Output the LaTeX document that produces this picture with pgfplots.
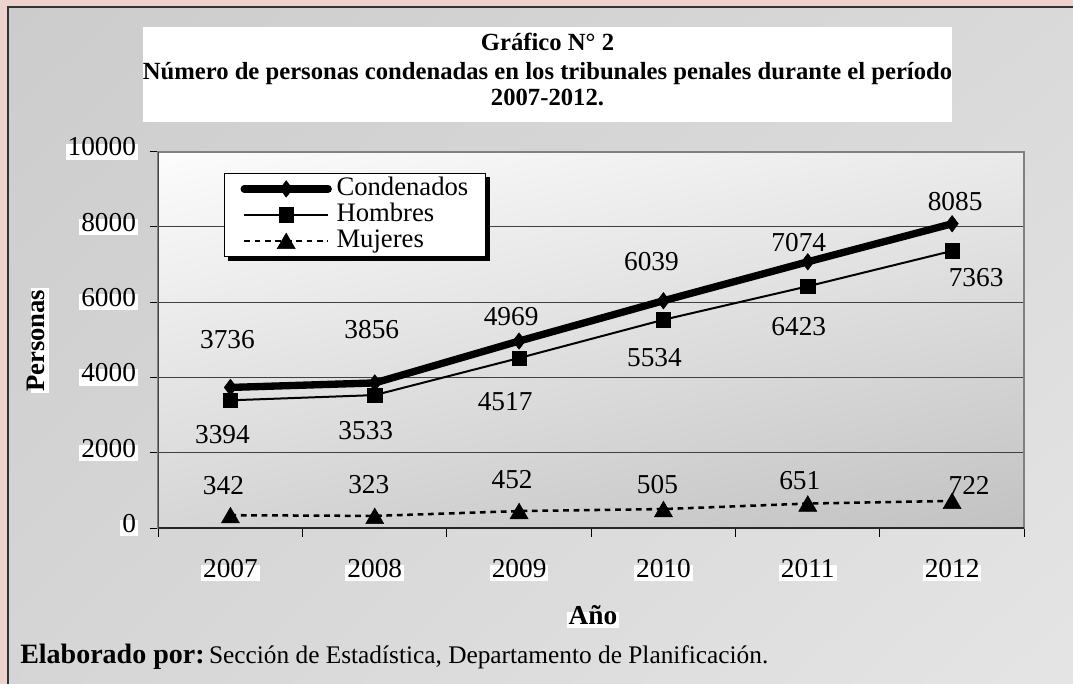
\documentclass[border=0pt]{standalone}
\usepackage{fontspec}
\setmainfont{Liberation Serif}
\usepackage{pgfplots}
\pgfplotsset{compat=1.18}
\usepackage{pgfplotstable}
\usetikzlibrary{shadings}

\definecolor{pinkbg}{RGB}{238,210,205}
\definecolor{framegray}{RGB}{128,128,128}
\definecolor{panUL}{RGB}{204,204,204}
\definecolor{panUR}{RGB}{218,218,218}
\definecolor{panLL}{RGB}{214,214,214}
\definecolor{panLR}{RGB}{230,230,230}
\definecolor{plUL}{RGB}{252,252,252}
\definecolor{plUR}{RGB}{234,234,234}
\definecolor{plLL}{RGB}{214,214,214}
\definecolor{plLR}{RGB}{194,194,194}

\pgfplotstableread{
x y lab dx dy
0 3736 3736 -2.25 35.7
1 3856 3856 -2.25 39.75
2 4969 4969 -6 18
3 6039 6039 -9 29.25
4 7074 7074 -6.75 14.25
5 8085 8085 2.25 16.5
}\condenados

\pgfplotstableread{
x y lab dx dy
0 3394 3394 -6 -25.9
1 3533 3533 -6.75 -26.8
2 4517 4517 -10.5 -33
3 5534 5534 -6.75 -28.5
4 6423 6423 -6.75 -30.45
5 7363 7363 18 -20.25
}\hombres

\pgfplotstableread{
x y lab dx dy
0 342 342 -5.25 24
1 323 323 -4.5 25.5
2 452 452 -5.25 25.5
3 505 505 -4.5 20.25
4 651 651 -6 19.5
5 722 722 12.75 13.5
}\mujeres

\newcommand{\bigfont}{\fontsize{20.5}{24}\selectfont}

\begin{document}
\begin{tikzpicture}[x=0.75pt,y=0.75pt]
\path[use as bounding box] (0,0) rectangle (1073,683);
\fill[pinkbg] (-20,-20) rectangle (1100,700);
\shade[upper left=panUL, upper right=panUR, lower left=panLL, lower right=panLR] (8,-40) rectangle (1120,676);
\draw[black!80, line width=1.1pt] (8,-40) -- (8,676) -- (1120,676);

\fill[white] (143,561) rectangle (952,656);
\node[font=\bfseries\fontsize{18.5}{20}\selectfont, anchor=base, inner sep=0pt] at (547.5,632) {Gráfico N° 2};
\node[font=\bfseries\fontsize{18.5}{20}\selectfont, anchor=base, inner sep=0pt] at (547.5,603) {Número de personas condenadas en los tribunales penales durante el período};
\node[font=\bfseries\fontsize{18.5}{20}\selectfont, anchor=base, inner sep=0pt] at (547.5,577) {2007-2012.};

\begin{axis}[
  at={(118.7pt,116.2pt)}, anchor=south west,
  scale only axis, width=649.5pt, height=282.3pt,
  xmin=-0.5, xmax=5.5, ymin=0, ymax=10000,
  xtick={-0.5,0.5,1.5,2.5,3.5,4.5,5.5}, xticklabels={},
  extra x ticks={0,1,2,3,4,5},
  extra x tick labels={2007,2008,2009,2010,2011,2012},
  extra x tick style={major tick length=0pt, tick label style={fill=white, inner xsep=1.5pt, inner ysep=0.5pt, text height=0.88em, text depth=0.24em, anchor=center, yshift=-33.5pt}},
  ytick={0,2000,4000,6000,8000,10000},
  scaled y ticks=false,
  tick align=outside, xtick pos=bottom, ytick pos=left,
  major tick length=6.5pt,
  every tick/.style={black, line width=0.8pt},
  ymajorgrids, grid style={black!75, line width=0.8pt},
  axis line style={framegray, line width=1.6pt},
  axis background/.style={shade, upper left=plUL, upper right=plUR, lower left=plLL, lower right=plLR},
  tick label style={font=\bigfont},
  yticklabel style={anchor=east, xshift=-8.5pt, fill=white, inner xsep=1.5pt, inner ysep=0.5pt, text height=0.88em, text depth=0.24em, /pgf/number format/1000 sep={}, /pgf/number format/assume math mode=true},
  xlabel={Año},
  xlabel style={at={(axis description cs:0.502,-0.2436)}, anchor=center, font=\bfseries\bigfont, fill=white, inner xsep=1pt, inner ysep=0.5pt, text height=0.88em, text depth=0.24em},
  ylabel={Personas},
  ylabel style={at={(axis description cs:-0.1366,0.4976)}, anchor=center, font=\bfseries\fontsize{20}{24}\selectfont, fill=white, inner xsep=1pt, inner ysep=1pt, text height=0.88em, text depth=0.24em},
  legend style={name=L, at={(0.0759,0.944)}, anchor=north west, draw=black, line width=0.8pt, fill=white,
    font=\fontsize{20}{20}\selectfont, inner xsep=12pt, inner ysep=2pt, row sep=0pt, column sep=3pt,
    nodes={inner sep=0.5pt, text height=14pt, text depth=4.5pt, anchor=west}},
  legend cell align=left,
  legend image code/.code={\draw[mark repeat=2,mark phase=2,#1] plot coordinates {(0pt,0pt) (31.5pt,0pt) (63pt,0pt)};},
  point meta=explicit symbolic,
  visualization depends on={\thisrow{dx} \as \dx},
  visualization depends on={\thisrow{dy} \as \dy},
  nodes near coords,
  nodes near coords style={font=\bigfont, text=black, anchor=center, xshift=\dx pt, yshift=\dy pt},
]
\addplot[black, line width=5.5pt, line cap=round, line join=round, mark=diamond*, mark size=6.2pt, mark options={solid, line width=0.4pt}] table[x=x, y=y, meta=lab] {\condenados};
\addlegendentry{Condenados}
\addplot[black, line width=1.5pt, mark=square*, mark size=5.4pt, mark options={solid, line width=0.4pt}] table[x=x, y=y, meta=lab] {\hombres};
\addlegendentry{Hombres}
\addplot[black, line width=1.9pt, dash pattern=on 4.3pt off 3.5pt, mark=triangle*, mark size=7.8pt, mark options={solid, line width=0.4pt, yshift=-1.9pt}] table[x=x, y=y, meta=lab] {\mujeres};
\addlegendentry{Mujeres}
\draw[black!85, line width=1.3pt] (rel axis cs:0,1) -- (rel axis cs:0,0) -- (rel axis cs:1,0);
\end{axis}
\fill[black] ([yshift=-3pt]L.north east) rectangle ([xshift=3pt,yshift=-3pt]L.south east);
\fill[black] ([xshift=3pt]L.south west) rectangle ([xshift=3pt,yshift=-3pt]L.south east);

\node[anchor=base west, inner sep=0pt] at (20,20) {{\bfseries\fontsize{21}{22}\selectfont Elaborado por:} \fontsize{19}{22}\selectfont Sección de Estadística, Departamento de Planificación.};
\end{tikzpicture}
\end{document}
